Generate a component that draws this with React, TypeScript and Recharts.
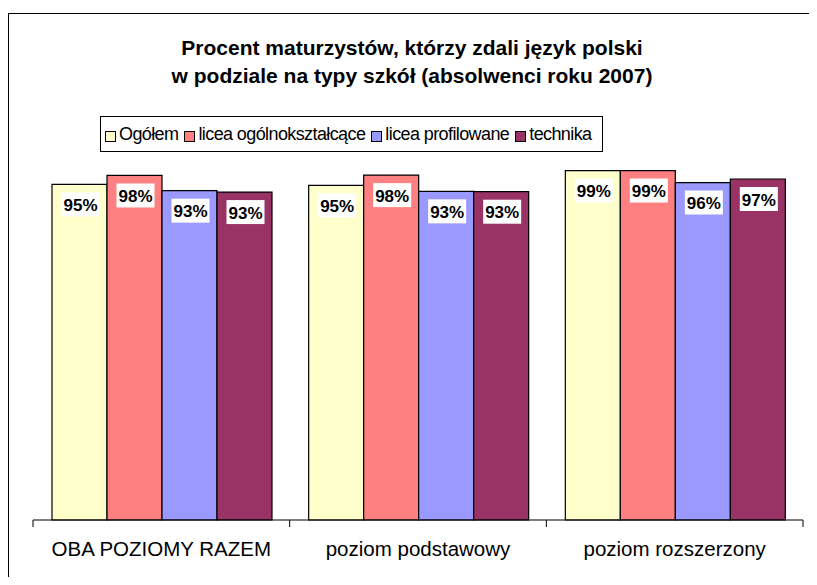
import { BarChart, Bar, XAxis, YAxis, LabelList } from "recharts";

// Data
const categories = ["OBA POZIOMY RAZEM", "poziom podstawowy", "poziom rozszerzony"];
const ogolem = [95.1, 94.8, 99.0];
const liceaOgolno = [97.6, 97.7, 99.0];
const liceaProfil = [93.3, 93.1, 95.6];
const technika = [92.9, 93.0, 96.6];

const seriesNames = ["Ogółem", "licea ogólnokształcące", "licea profilowane", "technika"];
const seriesKeys = ["ogolem", "liceaOgolno", "liceaProfil", "technika"];
const seriesColors = ["#FFFFCC", "#FF8080", "#9999FF", "#993366"];

const data = categories.map((name, i) => ({
  name,
  ogolem: ogolem[i],
  liceaOgolno: liceaOgolno[i],
  liceaProfil: liceaProfil[i],
  technika: technika[i],
}));

const FONT = "'Liberation Sans', Arial, sans-serif";

const ValueLabel = (props: any) => {
  const { x, y, width, value } = props;
  const cx = x + width / 2 + 1;
  return (
    <g>
      <rect x={cx - 19} y={y + 8} width={38} height={24} fill="#fff" />
      <text
        x={cx}
        y={y + 21}
        textAnchor="middle"
        dominantBaseline="central"
        fontFamily={FONT}
        fontWeight="bold"
        fontSize={17}
        fill="#000"
      >
        {Math.round(value)}%
      </text>
    </g>
  );
};

// x-axis label + Excel style ticks between categories
const CategoryTick = (props: any) => {
  const { x, y, payload, index } = props;
  const band = 770 / categories.length;
  const axisY = y - 8;
  return (
    <g>
      <line x1={x - band / 2} y1={axisY} x2={x - band / 2} y2={axisY + 7} stroke="#000" />
      {index === categories.length - 1 && (
        <line x1={x + band / 2} y1={axisY} x2={x + band / 2} y2={axisY + 7} stroke="#000" />
      )}
      <text x={x} y={y + 28} textAnchor="middle" fontFamily={FONT} fontSize={20.5} fill="#000">
        {payload.value}
      </text>
    </g>
  );
};

export default function App() {
  return (
    <div style={{ position: "relative", width: 801, height: 569, overflow: "hidden" }}>
      <div
        style={{
          position: "absolute",
          left: 0,
          top: 5,
          width: 1000,
          height: 1000,
          borderLeft: "1px solid #000",
          borderTop: "1px solid #000",
        }}
      />
      <div style={{ position: "absolute", left: 0, top: 0 }}>
        <BarChart
          width={801}
          height={569}
          data={data}
          margin={{ top: 159, right: 6, bottom: 17, left: 25 }}
          barCategoryGap={19}
          barGap={0}
        >
          <XAxis
            dataKey="name"
            height={40}
            tickLine={false}
            axisLine={{ stroke: "#000" }}
            tick={<CategoryTick />}
            interval={0}
          />
          <YAxis hide domain={[0, 100]} />
          {seriesKeys.map((k, i) => (
            <Bar key={k} dataKey={k} fill={seriesColors[i]} stroke="#000" strokeWidth={1.2} isAnimationActive={false}>
              <LabelList dataKey={k} content={<ValueLabel />} />
            </Bar>
          ))}
          <text x={404} y={47} textAnchor="middle" fontFamily={FONT} fontWeight="bold" fontSize={21} fill="#000">
            Procent maturzystów, którzy zdali język polski
          </text>
          <text x={404} y={75} textAnchor="middle" fontFamily={FONT} fontWeight="bold" fontSize={21} fill="#000">
            w podziale na typy szkół (absolwenci roku 2007)
          </text>
        </BarChart>
      </div>
      <div
        style={{
          position: "absolute",
          left: 92,
          top: 108,
          width: 503,
          height: 36,
          boxSizing: "border-box",
          border: "1px solid #000",
          display: "flex",
          alignItems: "center",
          paddingLeft: 4,
          fontFamily: FONT,
          fontSize: 18,
          letterSpacing: -0.6,
          color: "#000",
          background: "#fff",
          whiteSpace: "nowrap",
        }}
      >
        {seriesNames.map((n, i) => (
          <span key={n} style={{ display: "flex", alignItems: "center", marginRight: 6, flexShrink: 0 }}>
            <span
              style={{
                display: "inline-block",
                width: 9,
                height: 9,
                border: "1px solid #000",
                background: seriesColors[i],
                marginRight: 3,
                marginTop: 5,
              }}
            />
            {n}
          </span>
        ))}
      </div>
    </div>
  );
}
